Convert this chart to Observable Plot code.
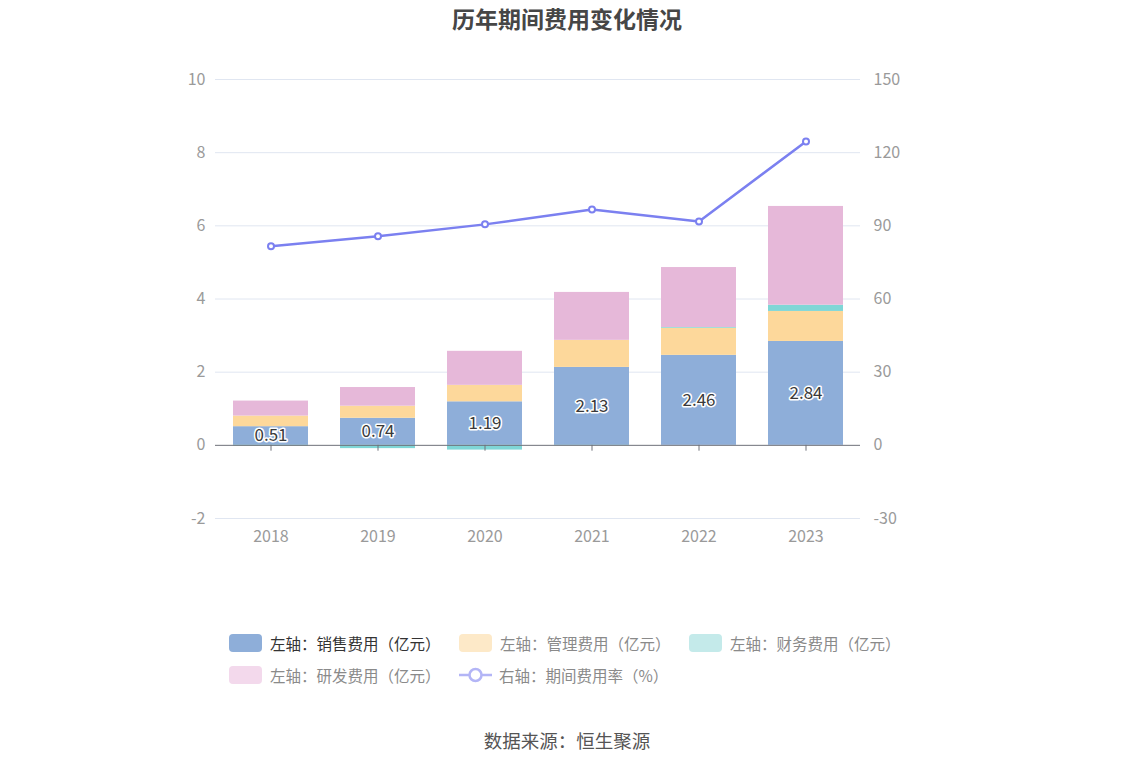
<!DOCTYPE html>
<html>
<head>
<meta charset="utf-8">
<script src="https://cdn.jsdelivr.net/npm/d3@7"></script>
<script src="https://cdn.jsdelivr.net/npm/@observablehq/plot@0.6"></script>
<style>
  html, body { margin: 0; padding: 0; background: #fff; }
  body { font-family: "Noto Sans CJK SC", "Noto Sans", sans-serif; }
  #wrap { position: relative; width: 1134px; height: 766px; overflow: hidden; }
  #title { position: absolute; left: 0; top: 0; width: 1134px; text-align: center; font-size: 23px; font-weight: bold; color: #464646; line-height: 36px; }
  #chart { position: absolute; left: 0; top: 40px; }
  .leg { position: absolute; display: flex; align-items: center; font-size: 15.5px; color: #8a8a8a; white-space: nowrap; }
  .sw { width: 33px; height: 18px; border-radius: 4px; margin-right: 8px; }
  #caption { position: absolute; left: 0; top: 727px; width: 1134px; text-align: center; font-size: 18.5px; color: #555; }
</style>
</head>
<body>
<div id="wrap">
  <div id="title">历年期间费用变化情况</div>
  <div id="chart"></div>
  <div id="legend"></div>
  <div id="caption">数据来源：恒生聚源</div>
</div>
<script>
// ---- data ----
const years = ["2018", "2019", "2020", "2021", "2022", "2023"];
const seriesNames = ["销售费用", "管理费用", "财务费用", "研发费用"];
const salesExp = [0.51, 0.74, 1.19, 2.13, 2.46, 2.84];
const adminExp = [0.29, 0.33, 0.45, 0.74, 0.74, 0.82];
const financeExp = [-0.02, -0.09, -0.13, -0.01, 0.02, 0.17];
const rndExp = [0.41, 0.51, 0.93, 1.31, 1.64, 2.70];
const expenseRate = [81.6, 85.7, 90.6, 96.7, 91.8, 124.6];
const leftTicks = [-2, 0, 2, 4, 6, 8, 10];
const legendLabels = ["左轴：销售费用（亿元）", "左轴：管理费用（亿元）", "左轴：财务费用（亿元）", "左轴：研发费用（亿元）", "右轴：期间费用率（%）"];

const seriesColors = ["#8eaed9", "#fdd89b", "#7fd6d6", "#e6b8d9"];
const lineColor = "#7b80f0";
const ratio = 15; // right axis / left axis

const seriesValues = [salesExp, adminExp, financeExp, rndExp];
const rows = years.flatMap((yr, i) => seriesNames.map((s, j) => ({year: yr, series: s, value: seriesValues[j][i]})));
const salesRows = years.map((yr, i) => ({year: yr, value: salesExp[i]}));
const rateRows = years.map((yr, i) => ({year: yr, rate: expenseRate[i]}));

const chart = Plot.plot({
  width: 1134,
  height: 540,
  marginLeft: 215,
  marginRight: 274,
  marginTop: 39,
  marginBottom: 62,
  style: {fontFamily: "'Noto Sans CJK SC', 'Noto Sans', sans-serif", fontSize: "14px", background: "white"},
  x: {domain: years, paddingInner: 0.3, paddingOuter: 0.15, label: null},
  y: {domain: [-2, 10], label: null},
  color: {domain: seriesNames, range: seriesColors},
  marks: [
    Plot.ruleY(leftTicks.filter(d => d !== 0), {stroke: "#e0e6f1", strokeWidth: 1}),
    Plot.barY(rows, Plot.stackY({x: "year", y: "value", z: "series", fill: "series", order: seriesNames})),
    Plot.ruleY([0], {stroke: "#6e7079", strokeWidth: 1}),
    Plot.ruleX(years, {x: d => d, y1: 0, y2: -0.16, stroke: "#6e7079"}),
    Plot.axisY({ticks: leftTicks, tickFormat: d => String(d), tickSize: 0, tickPadding: 10, label: null, color: "#9a9a9a", fontSize: 16}),
    Plot.axisY({anchor: "right", ticks: leftTicks, tickFormat: d => String(d * ratio), tickSize: 0, tickPadding: 13, label: null, color: "#9a9a9a", fontSize: 16}),
    Plot.axisX({tickSize: 0, tickPadding: 12, label: null, color: "#9a9a9a", fontSize: 16}),
    Plot.text(salesRows, {x: "year", y: d => d.value / 2, text: d => d.value.toFixed(2), fill: "#3a3a3a", stroke: "white", strokeWidth: 3, paintOrder: "stroke", fontSize: 17}),
    Plot.line(rateRows, {x: "year", y: d => d.rate / ratio, stroke: lineColor, strokeWidth: 2.5}),
    Plot.dot(rateRows, {x: "year", y: d => d.rate / ratio, r: 3, fill: "white", stroke: lineColor, strokeWidth: 2})
  ]
});
document.getElementById("chart").appendChild(chart);

// ---- legend ----
const legendColorsActive = ["#8eaed9", "#fde9c8", "#c4eaea", "#f3d9ec"];
const legendPos = [[229, 643], [459, 643], [689, 643], [229, 675], [459, 675]];
const legend = document.getElementById("legend");
legendLabels.forEach((lab, i) => {
  const item = document.createElement("div");
  item.className = "leg";
  item.style.left = legendPos[i][0] + "px";
  item.style.top = (legendPos[i][1] - 11) + "px";
  item.style.height = "22px";
  if (i === 0) item.style.color = "#333";
  if (i < 4) {
    const sw = document.createElement("div");
    sw.className = "sw";
    sw.style.background = legendColorsActive[i];
    item.appendChild(sw);
  } else {
    const ic = document.createElementNS("http://www.w3.org/2000/svg", "svg");
    ic.setAttribute("width", 33); ic.setAttribute("height", 18);
    ic.style.marginRight = "7px";
    ic.innerHTML = '<line x1="0" y1="9" x2="33" y2="9" stroke="#b3b5f6" stroke-width="2.5"/><circle cx="16.5" cy="9" r="6" fill="white" stroke="#b3b5f6" stroke-width="2.5"/>';
    item.appendChild(ic);
  }
  const t = document.createElement("span");
  t.textContent = lab;
  item.appendChild(t);
  legend.appendChild(item);
});
</script>
</body>
</html>
